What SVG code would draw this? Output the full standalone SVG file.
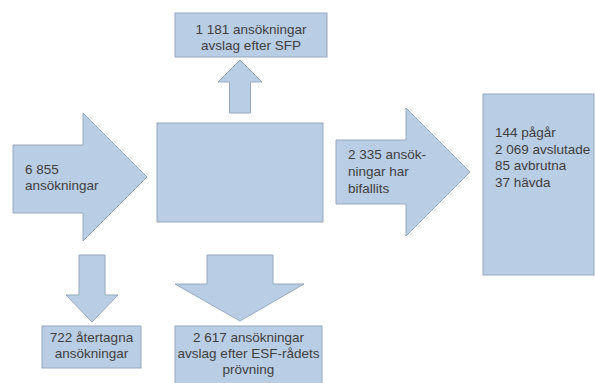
<svg xmlns="http://www.w3.org/2000/svg" width="595" height="383" viewBox="0 0 595 383">
<style>
.s{fill:#b9cde5;stroke:#98a8bd;stroke-width:1}
.t{font-family:"Liberation Sans",Arial,sans-serif;font-size:13.5px;fill:#3f3f3f}
.c{text-anchor:middle}
</style>
<rect width="595" height="383" fill="#ffffff"/>
<g id="connectors">
<path id="arrow-up" class="s" d="M229.5,113 L229.5,82 L218,82 L240,60 L262,82 L250.5,82 L250.5,113 Z"/>
<path id="arrow-in" class="s" d="M13,145 L83,145 L83,113 L147,177 L83,241 L83,213 L13,213 Z"/>
<path id="arrow-right" class="s" d="M336,140 L406,140 L406,108 L470,172 L406,236 L406,204 L336,204 Z"/>
<path id="arrow-down-left" class="s" d="M79,255 L105,255 L105,295 L118,295 L92,322 L66,295 L79,295 Z"/>
<path id="arrow-down-mid" class="s" d="M207,255 L273,255 L273,284 L304,284 L240,321 L175,284 L207,284 Z"/>
<text class="t" x="25" y="174">6 855</text>
<text class="t" x="25" y="190">ansökningar</text>
<text class="t" x="348" y="159">2 335 ansök-</text>
<text class="t" x="348" y="176">ningar har</text>
<text class="t" x="348" y="193">bifallits</text>
</g>
<g id="node-center">
<rect class="s" x="157" y="123" width="166" height="99"/>
</g>
<g id="node-sfp">
<rect class="s" x="175" y="13" width="152" height="44"/>
<text class="t c" x="251" y="34">1 181 ansökningar</text>
<text class="t c" x="251" y="50">avslag efter SFP</text>
</g>
<g id="node-result">
<rect class="s" x="483" y="94" width="111" height="181"/>
<text class="t" x="495" y="137">144 pågår</text>
<text class="t" x="495" y="153.5">2 069 avslutade</text>
<text class="t" x="495" y="170">85 avbrutna</text>
<text class="t" x="495" y="186.5">37 hävda</text>
</g>
<g id="node-withdrawn">
<rect class="s" x="42" y="326" width="99" height="42"/>
<text class="t c" x="91.5" y="342">722 återtagna</text>
<text class="t c" x="91.5" y="358">ansökningar</text>
</g>
<g id="node-esf">
<rect class="s" x="175" y="326" width="147" height="60"/>
<text class="t c" x="248.5" y="342">2 617 ansökningar</text>
<text class="t c" x="248.5" y="358">avslag efter ESF-rådets</text>
<text class="t c" x="248.5" y="374">prövning</text>
</g>
</svg>
